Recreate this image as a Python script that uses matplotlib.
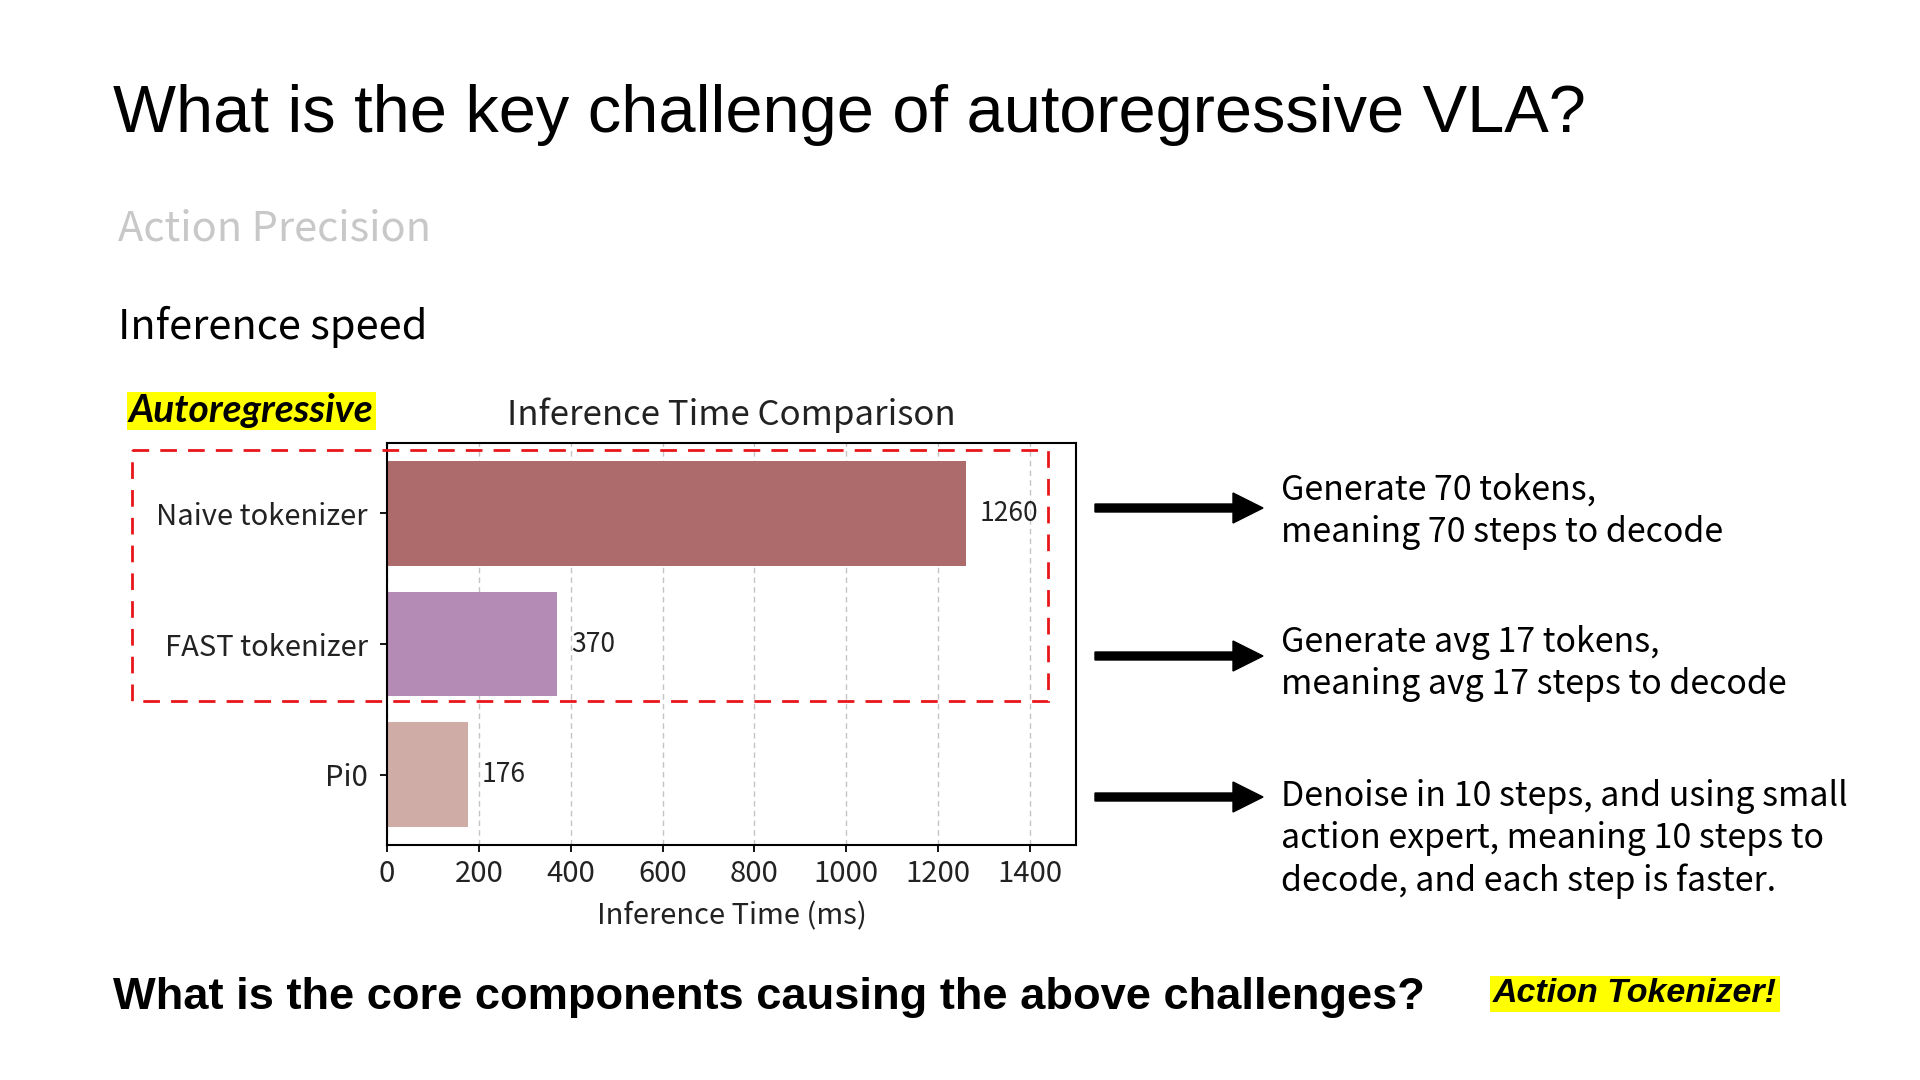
import matplotlib
matplotlib.use("Agg")
import matplotlib.pyplot as plt
from matplotlib.patches import Rectangle, FancyArrow

HUMAN = "Noto Sans CJK SC"

# data
methods = ["Naive tokenizer", "FAST tokenizer", "Pi0"]
times_ms = [1260, 370, 176]
bar_colors = ["#ad6b6c", "#b48bb5", "#cfada6"]
x_ticks = [0, 200, 400, 600, 800, 1000, 1200, 1400]

notes = [
    ["Generate 70 tokens,", "meaning 70 steps to decode"],
    ["Generate avg 17 tokens,", "meaning avg 17 steps to decode"],
    ["Denoise in 10 steps, and using small",
     "action expert, meaning 10 steps to",
     "decode, and each step is faster."],
]

W, H = 1920, 1080
fig = plt.figure(figsize=(W / 100, H / 100), dpi=100)
fig.patch.set_facecolor("white")

# bar chart
ax = fig.add_axes([387 / W, 1 - 845 / H, (1076 - 387) / W, (845 - 443) / H])
ax.barh(methods, times_ms, color=bar_colors, height=0.8, zorder=2)
ax.invert_yaxis()
ax.set_xlim(0, 1500)
ax.set_xticks(x_ticks)
ax.grid(axis="x", linestyle=(0, (4, 3)), color="#c4c4c4", linewidth=1, zorder=0)
for i, v in enumerate(times_ms):
    ax.text(v + 30, i, str(v), va="center", ha="left", fontsize=19, family=HUMAN, color="#222222")
ax.set_title("Inference Time Comparison", fontsize=25, family=HUMAN, pad=13, color="#222222")
ax.set_xlabel("Inference Time (ms)", fontsize=21, family=HUMAN, color="#222222", labelpad=9)
for lab in ax.get_xticklabels() + ax.get_yticklabels():
    lab.set_family(HUMAN)
    lab.set_fontsize(21)
    lab.set_color("#222222")
ax.tick_params(length=5, width=1.3)
ax.tick_params(axis="x", pad=5)
ax.tick_params(axis="y", pad=9)
for s in ax.spines.values():
    s.set_linewidth(1.5)

# slide overlay in pixel coordinates
ov = fig.add_axes([0, 0, 1, 1], facecolor="none")
ov.set_xlim(0, W)
ov.set_ylim(H, 0)
ov.axis("off")

ov.text(113, 132, "What is the key challenge of autoregressive VLA?", fontsize=48.1,
        family="Liberation Sans", va="baseline", ha="left")
ov.text(118, 229, "Action Precision", fontsize=30, family=HUMAN, color="#c8c8c8",
        va="center", ha="left")
ov.text(118, 327, "Inference speed", fontsize=30, family=HUMAN, color="black",
        va="center", ha="left")
ov.text(129, 411, "Autoregressive", fontsize=28, family="Lato", weight="bold",
        style="italic", va="center", ha="left",
        bbox=dict(boxstyle="square,pad=0.05", facecolor="#ffff00", edgecolor="none"))

ov.add_patch(Rectangle((132, 450), 1048 - 132, 701 - 450, fill=False, edgecolor="#e8161b",
                       linestyle=(0, (6, 4)), linewidth=2, zorder=5))

arrow_y = [508, 656, 797]
for y in arrow_y:
    ov.add_patch(FancyArrow(1095, y, 168, 0, width=8, head_width=30, head_length=30,
                            length_includes_head=True, color="black"))

line_y = [[490, 532], [643, 685], [797, 838, 881]]
for block, ys in zip(notes, line_y):
    for t, y in zip(block, ys):
        ov.text(1281, y, t, fontsize=24.4, family=HUMAN, va="center", ha="left")

ov.text(113, 997, "What is the core components causing the above challenges?", fontsize=32.6,
        family="Liberation Sans", weight="bold", va="center", ha="left")
ov.text(1493, 994, "Action Tokenizer!", fontsize=24.5, family="Liberation Sans", weight="bold",
        style="italic", va="center", ha="left",
        bbox=dict(boxstyle="square,pad=0.08", facecolor="#ffff00", edgecolor="none"))

fig.savefig("out.png", dpi=100)
